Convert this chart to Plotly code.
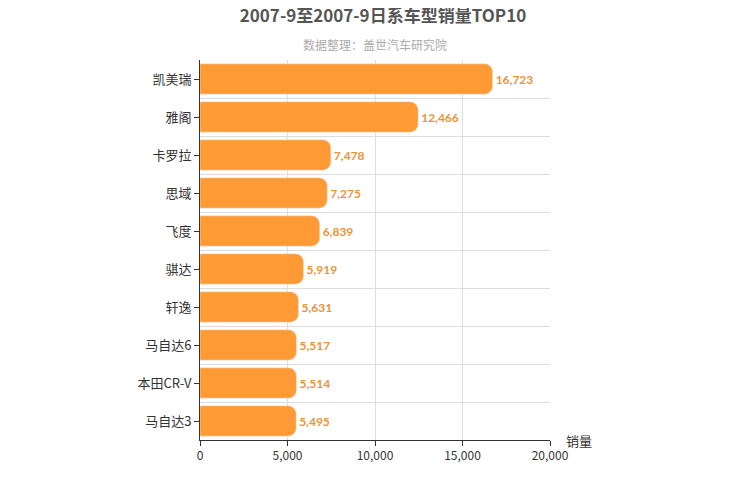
import plotly.graph_objects as go

models = ["凯美瑞", "雅阁", "卡罗拉", "思域", "飞度", "骐达", "轩逸", "马自达6", "本田CR-V", "马自达3"]
sales = [16723, 12466, 7478, 7275, 6839, 5919, 5631, 5517, 5514, 5495]

n = len(models)
ypos = list(range(n))[::-1]

fig = go.Figure(go.Bar(
    x=sales, y=ypos, orientation="h",
    marker=dict(color="#FF9A35", cornerradius=8),
    width=0.8,
    text=[f"{v:,}" for v in sales], textposition="outside",
    textfont=dict(color="#E8953A", size=12, family="Lato, sans-serif", weight="bold"),
    cliponaxis=False,
))
fig.update_layout(
    width=750, height=500,
    margin=dict(l=192, r=208, t=52, b=68),
    plot_bgcolor="white", paper_bgcolor="white",
    showlegend=False,
    font=dict(family="Noto Sans CJK SC, sans-serif", color="#333"),
    title=dict(text="2007-9至2007-9日系车型销量TOP10", x=0.5, xanchor="center", y=0.995, yanchor="top",
               font=dict(size=17, color="#555", family="Noto Sans CJK SC, sans-serif", weight="bold")),
    annotations=[
        dict(text="数据整理：盖世汽车研究院", x=0.5, y=1.0, xref="paper", yref="paper",
             yanchor="middle", yshift=16, showarrow=False, font=dict(size=12, color="#aaa")),
        dict(text="销量", x=1, xref="paper", y=0, yref="paper", xanchor="left", yanchor="middle",
             xshift=14, yshift=0, showarrow=False, font=dict(size=13, color="#333")),
    ],
)
fig.update_xaxes(range=[0, 20000], tickvals=[0, 5000, 10000, 15000, 20000],
                 tickformat=",", showgrid=True, gridcolor="#ddd", zeroline=False,
                 showline=True, linecolor="#333", ticks="outside", ticklen=5, tickcolor="#333",
                 tickfont=dict(size=12, color="#333"))
fig.update_yaxes(range=[-0.5, n - 0.5], tickvals=ypos, ticktext=models, showgrid=False,
                 zeroline=False, showline=True, linecolor="#333", ticks="outside", ticklen=5,
                 tickcolor="#333", tickfont=dict(size=13, color="#333"),
                 minor=dict(tickvals=[i + 0.5 for i in range(-1, n)], showgrid=True,
                            gridcolor="#ddd", ticks=""))
fig.write_html("out.html")
